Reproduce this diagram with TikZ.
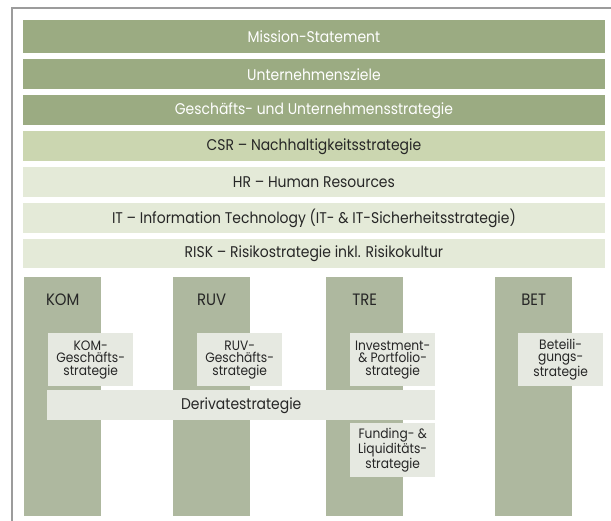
\documentclass[tikz,border=0pt]{standalone}
\usepackage{fontspec}
\setmainfont{Poppins}[FakeStretch=0.9]
\usepackage{tikz}
\usetikzlibrary{positioning}
\definecolor{dark}{HTML}{9BAB82}
\definecolor{mid}{HTML}{CBD6B0}
\definecolor{pale}{HTML}{E4EAD8}
\definecolor{pillar}{HTML}{AEB89F}
\definecolor{boxfill}{HTML}{E6E9E1}
\definecolor{frame}{HTML}{9C9C9C}
\definecolor{ink}{HTML}{262626}

\begin{document}
\begin{tikzpicture}[x=1pt,y=-1pt,
  band/.style={anchor=north west,minimum width=582.5pt,minimum height=30pt,inner sep=0pt,
    font=\fontsize{15.5}{17}\selectfont},
  top/.style={band,fill=dark,text=white},
  csrband/.style={band,fill=mid,text=ink},
  base/.style={band,fill=pale,text=ink},
  pillarbox/.style={anchor=north west,fill=pillar,minimum width=77pt,minimum height=239pt,inner sep=0pt},
  head/.style={font=\fontsize{16.5}{18}\selectfont,text=ink,inner sep=0pt},
  sub/.style={anchor=north west,fill=boxfill,minimum width=85pt,minimum height=53pt,inner sep=0pt,
    align=center,text=ink,font=\fontsize{13.6}{12.6}\selectfont}]
\useasboundingbox (0,0) rectangle (611,521);
\draw[frame,line width=1.4pt] (12,521) -- (12,8) -- (611,8);
% strategy layers
\node[top,minimum height=33pt] (mission) at (22.5,20) {Mission-Statement};
\node[top] (ziele) at (22.5,59) {Unternehmensziele};
\node[top] (gus) at (22.5,95) {Geschäfts- und Unternehmensstrategie};
\node[csrband] (csr) at (22.5,131) {CSR – Nachhaltigkeitsstrategie};
\node[base] (hr) at (22.5,167) {HR – Human Resources};
\node[base] (it) at (22.5,203) {IT – Information Technology (IT- \& IT-Sicherheitsstrategie)};
\node[base,minimum height=29pt] (risk) at (22.5,239) {RISK – Risikostrategie inkl. Risikokultur};
% pillars
\foreach \n/\x in {kom/24,ruv/173,tre/326,bet/495}{
  \node[pillarbox] (\n) at (\x,277) {};}
\foreach \n/\t in {kom/KOM,ruv/RUV,tre/TRE,bet/BET}{
  \node[head,below=17pt of \n.north] (\n lbl) {\t};}
% sub-strategies
\node[sub] (komgs) at (48,333) {KOM-\\Geschäfts-\\strategie};
\node[sub] (ruvgs) at (197,333) {RUV-\\Geschäfts-\\strategie};
\node[sub] (invest) at (350,333) {Investment-\\\& Portfolio-\\strategie};
\node[sub] (beteil) at (518,333) {Beteili-\\gungs-\\strategie};
\node[sub,minimum width=388pt,minimum height=30pt,font=\fontsize{15.5}{17}\selectfont] (deriv) at (47,390) {Derivatestrategie};
\node[sub,minimum height=54pt] (funding) at (350,423) {Funding- \&\\Liquiditäts-\\strategie};
\end{tikzpicture}
\end{document}
